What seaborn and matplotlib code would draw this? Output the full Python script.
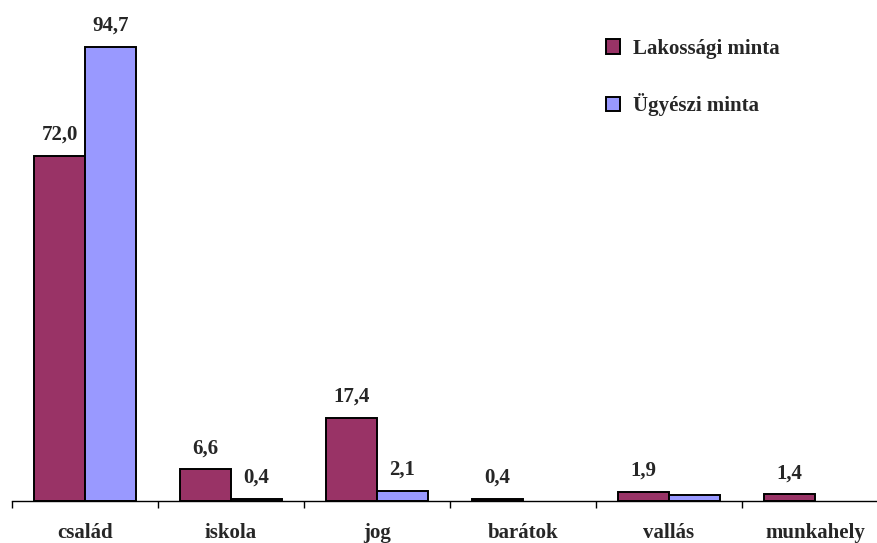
import numpy as np
import pandas as pd
import matplotlib
matplotlib.use("Agg")
import matplotlib.pyplot as plt
import seaborn as sns
from matplotlib.patches import Patch

categories = ["család", "iskola", "jog", "barátok", "vallás", "munkahely"]
lakossagi = [72.0, 6.6, 17.4, 0.4, 1.9, 1.4]
ugyeszi = [94.7, 0.4, 2.1, np.nan, 1.2, np.nan]
series_names = ["Lakossági minta", "Ügyészi minta"]
colors = ["#993366", "#9999FF"]

df = pd.DataFrame({
    "kategória": categories * 2,
    "érték": lakossagi + ugyeszi,
    "minta": [series_names[0]] * len(categories) + [series_names[1]] * len(categories),
})

sns.set_theme(style="white")
plt.rcParams["font.family"] = ["Liberation Serif", "DejaVu Serif"]
plt.rcParams["font.weight"] = "bold"

fig = plt.figure(figsize=(8.78, 5.43), dpi=100)
W, H = 878, 543
ax = fig.add_axes([12 / W, (H - 501) / H, 876 / W, 501 / H])

sns.barplot(data=df, x="kategória", y="érték", hue="minta", order=categories,
            hue_order=series_names, palette=colors, width=0.7, gap=0,
            edgecolor="black", linewidth=1.4, saturation=1, legend=False, ax=ax)

ax.set_xlim(-0.5, 5.5)
ax.set_ylim(0, 501 / 4.794)

# value labels above every bar
for container, vals in zip(ax.containers, [lakossagi, ugyeszi]):
    for bar, v in zip(container, vals):
        if np.isnan(v):
            continue
        ax.annotate(f"{v:.1f}".replace(".", ","),
                    (bar.get_x() + bar.get_width() / 2, v),
                    xytext=(0, 8), textcoords="offset points",
                    ha="center", va="bottom", fontsize=15, fontweight="bold")

for s in ["top", "right", "left"]:
    ax.spines[s].set_visible(False)
ax.spines["bottom"].set_color("black")
ax.spines["bottom"].set_linewidth(1.0)
ax.set_yticks([])
ax.set_xlabel("")
ax.set_ylabel("")

ax.set_xticks(range(len(categories)))
ax.set_xticklabels(categories, fontsize=15, fontweight="bold")
ax.tick_params(axis="x", which="major", length=0, pad=16)
ax.set_xticks(np.arange(-0.5, 6.0, 1.0), minor=True)
ax.tick_params(axis="x", which="minor", length=5, width=1.0, color="black",
               direction="out", bottom=True)

handles = [Patch(facecolor=c, edgecolor="black", linewidth=1.4) for c in colors]
fig.legend(handles, series_names, loc="upper left",
           bbox_to_anchor=(587 / W, 1 - 20 / H), frameon=False,
           handlelength=0.7, handleheight=0.7, handletextpad=0.6,
           labelspacing=1.65, prop={"size": 15, "weight": "bold"})

fig.savefig("out.png", dpi=100)
